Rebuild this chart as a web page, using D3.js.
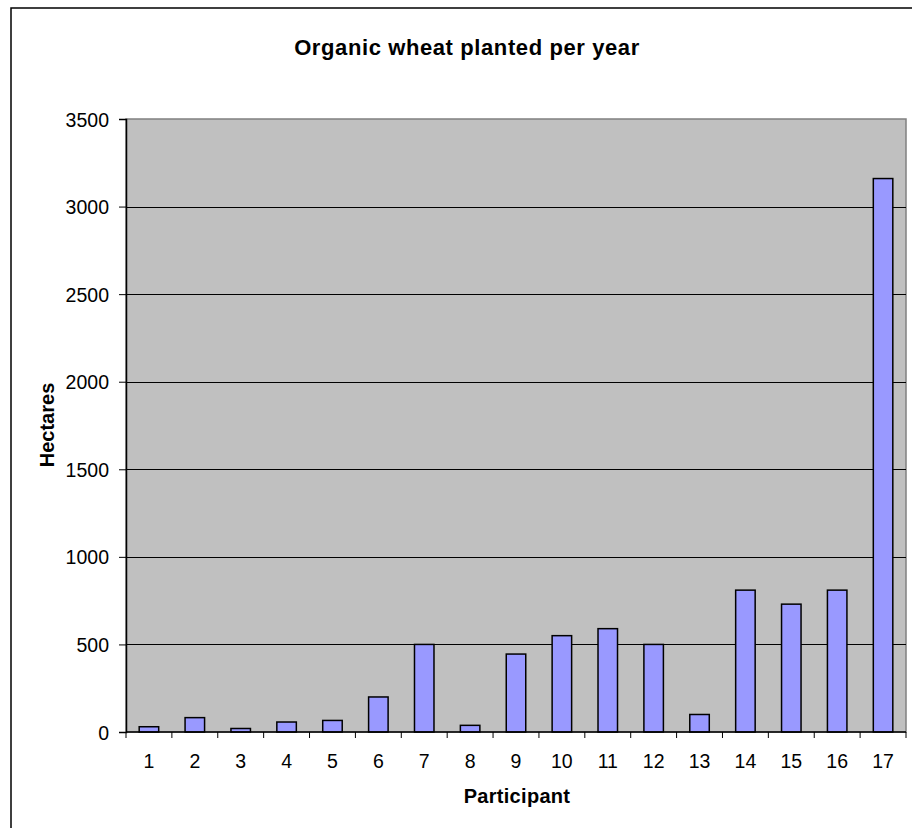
<!DOCTYPE html>
<html>
<head>
<meta charset="utf-8">
<script src="https://cdn.jsdelivr.net/npm/d3@7"></script>
<style>
  body { margin: 0; background: #fff; }
  svg { display: block; font-family: "Liberation Sans", Arial, sans-serif; }
</style>
</head>
<body>
<div id="chart"></div>
<script>
// participants and hectares
var participants = ["1","2","3","4","5","6","7","8","9","10","11","12","13","14","15","16","17"];
var hectares = [30, 82, 20, 57, 66, 200, 500, 38, 445, 550, 590, 500, 100, 810, 730, 810, 3160];
var yTicks = [0, 500, 1000, 1500, 2000, 2500, 3000, 3500];

var W = 912, H = 828;
var plot = {left: 126, top: 119, right: 906, bottom: 732};
var font = "'Liberation Sans', Arial, sans-serif";

var svg = d3.select("#chart").append("svg")
    .attr("width", W).attr("height", H);

// outer chart frame (runs off the right and bottom edges)
svg.append("rect")
    .attr("x", 11).attr("y", 8)
    .attr("width", W + 20).attr("height", H + 20)
    .attr("fill", "#fff").attr("stroke", "#000").attr("stroke-width", 1.5);

var x = d3.scaleBand()
    .domain(participants)
    .range([plot.left, plot.right])
    .paddingInner(0.575).paddingOuter(0.2875);

var xGroup = d3.scaleBand().domain(participants).range([plot.left, plot.right]);

var y = d3.scaleLinear().domain([0, 3500]).range([plot.bottom, plot.top]);

// plot background
svg.append("rect")
    .attr("x", plot.left).attr("y", plot.top)
    .attr("width", plot.right - plot.left).attr("height", plot.bottom - plot.top)
    .attr("fill", "#c0c0c0").attr("stroke", "#808080").attr("stroke-width", 1.5);

// gridlines
svg.append("g").selectAll("line")
    .data(yTicks.filter(function(d) { return d > 0 && d < 3500; }))
    .enter().append("line")
    .attr("x1", plot.left).attr("x2", plot.right)
    .attr("y1", function(d) { return Math.round(y(d)) + 0.5; })
    .attr("y2", function(d) { return Math.round(y(d)) + 0.5; })
    .attr("stroke", "#000").attr("stroke-width", 1);

// bars
svg.append("g").selectAll("rect")
    .data(hectares)
    .enter().append("rect")
    .attr("x", function(d, i) { return x(participants[i]); })
    .attr("y", function(d) { return y(d); })
    .attr("width", x.bandwidth())
    .attr("height", function(d) { return plot.bottom - y(d); })
    .attr("fill", "#9999ff").attr("stroke", "#000").attr("stroke-width", 1.5);

// y axis
var yAxis = d3.axisLeft(y).tickValues(yTicks).tickFormat(d3.format("d"))
    .tickSize(7).tickPadding(10);
var gy = svg.append("g").attr("transform", "translate(" + plot.left + ",0)").call(yAxis);
gy.select(".domain").attr("stroke", "#000").attr("stroke-width", 1.5);
gy.selectAll(".tick line").attr("stroke", "#000");
gy.selectAll("text").attr("font-size", 19.5).attr("fill", "#000")
    .attr("font-family", font).attr("dy", "0.36em");

// x axis: ticks on group boundaries
var gx = svg.append("g").attr("transform", "translate(0," + plot.bottom + ")");
gx.append("line")
    .attr("x1", plot.left).attr("x2", plot.right)
    .attr("stroke", "#000").attr("stroke-width", 1.5);
var bounds = participants.map(function(p) { return xGroup(p); }).concat([plot.right]);
gx.selectAll(".tk").data(bounds).enter().append("line")
    .attr("x1", function(d) { return d; }).attr("x2", function(d) { return d; })
    .attr("y1", 0).attr("y2", 6)
    .attr("stroke", "#000");
gx.selectAll(".lbl").data(participants).enter().append("text")
    .attr("x", function(d) { return xGroup(d) + xGroup.bandwidth() / 2; })
    .attr("y", 36)
    .attr("text-anchor", "middle")
    .attr("font-size", 19.5)
    .text(function(d) { return d; });

// titles
svg.append("text")
    .attr("x", 467).attr("y", 55)
    .attr("text-anchor", "middle")
    .attr("font-size", 22).attr("font-weight", "bold")
    .attr("letter-spacing", 0.6)
    .text("Organic wheat planted per year");

svg.append("text")
    .attr("x", 517).attr("y", 803)
    .attr("text-anchor", "middle")
    .attr("font-size", 20).attr("font-weight", "bold")
    .attr("letter-spacing", 0.3)
    .text("Participant");

svg.append("text")
    .attr("transform", "translate(54,425) rotate(-90)")
    .attr("text-anchor", "middle")
    .attr("font-size", 20).attr("font-weight", "bold")
    .text("Hectares");
</script>
</body>
</html>
